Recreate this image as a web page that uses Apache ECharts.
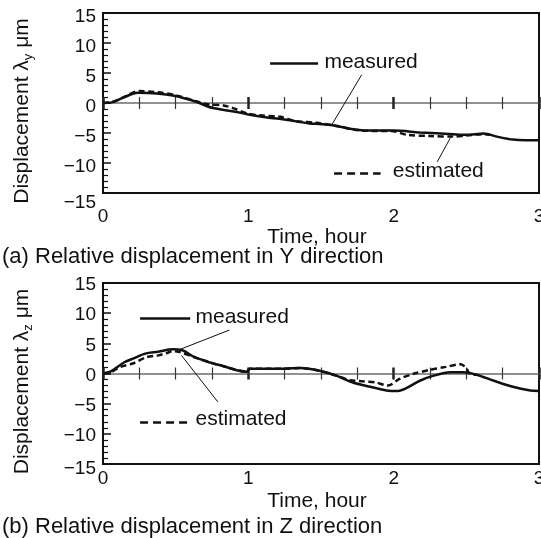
<!DOCTYPE html>
<html><head><meta charset="utf-8">
<script src="https://cdn.jsdelivr.net/npm/echarts@6/dist/echarts.min.js"></script>
<style>html,body{margin:0;padding:0;background:#fff}#c{width:541px;height:538px}</style>
</head><body><div id="c"></div>
<script>
// ---- data ----
const timeYm = [0, 0.06, 0.14, 0.24, 0.37, 0.49, 0.64, 0.75, 0.90, 1.00, 1.13, 1.26, 1.42, 1.49, 1.58, 1.70, 1.81, 2.00, 2.18, 2.41, 2.50, 2.62, 2.71, 2.82, 2.91, 3.00];
const yMeasured = [0, 0.1, 0.9, 1.7, 1.6, 1.2, 0.2, -0.8, -1.4, -1.9, -2.4, -2.8, -3.4, -3.5, -3.7, -4.3, -4.6, -4.6, -4.9, -5.2, -5.3, -5.1, -5.6, -6.1, -6.2, -6.2];
const timeYe = [0, 0.08, 0.16, 0.25, 0.37, 0.50, 0.64, 0.72, 0.83, 0.90, 1.00, 1.10, 1.22, 1.32, 1.47, 1.60, 1.78, 2.00, 2.09, 2.25, 2.41, 2.50, 2.62, 2.66];
const yEstimated = [0, 0.3, 1.2, 2.0, 1.8, 1.3, 0.3, -0.2, -0.4, -0.9, -1.8, -2.1, -2.3, -3.0, -3.3, -3.8, -4.6, -4.7, -5.3, -5.5, -5.6, -5.4, -5.2, -5.3];
const timeZm = [0, 0.05, 0.15, 0.21, 0.29, 0.38, 0.48, 0.54, 0.63, 0.74, 0.83, 0.92, 0.99, 1.01, 1.24, 1.36, 1.49, 1.61, 1.72, 1.84, 1.95, 2.03, 2.09, 2.18, 2.27, 2.39, 2.48, 2.57, 2.69, 2.82, 2.94, 3.00];
const zMeasured = [0, 0.3, 1.9, 2.5, 3.3, 3.6, 4.0, 3.9, 2.7, 1.8, 1.2, 0.55, 0.3, 0.8, 0.8, 0.9, 0.45, -0.4, -1.5, -2.2, -2.8, -2.9, -2.4, -1.2, -0.4, 0.2, 0.2, -0.2, -1.2, -2.2, -2.8, -2.9];
const timeZe = [0, 0.06, 0.12, 0.21, 0.30, 0.38, 0.44, 0.48, 0.52, 0.63, 0.74, 0.83, 0.92, 0.99, 1.01, 1.24, 1.36, 1.49, 1.61, 1.70, 1.79, 1.88, 1.96, 2.04, 2.13, 2.25, 2.36, 2.46, 2.50, 2.52, 2.57];
const zEstimated = [0, 0.3, 1.1, 1.7, 2.7, 3.0, 3.4, 3.7, 3.6, 2.7, 1.8, 1.2, 0.55, 0.3, 0.8, 0.8, 0.9, 0.45, -0.4, -1.1, -1.3, -1.5, -2.0, -0.9, -0.1, 0.6, 1.1, 1.55, 0.9, 0.0, -0.2];
const xTickLabels = ['0', '1', '2', '3'];
const seriesNames = ['measured', 'estimated'];
const xTitle = 'Time, hour';
const yTitleSubs = ['y', 'z'];
const captions = ['(a) Relative displacement in Y direction', '(b) Relative displacement in Z direction'];

// ---- helpers ----
const FONT = '"Liberation Sans", Arial, sans-serif';
const INK = '#111';
const pairs = (xs, ys) => xs.map((x, i) => [x, ys[i]]);
const minus = v => String(v).replace('-', '\u2212');

function mainX(gi, labelMargin, nameGap) {
  return {
    type: 'value', gridIndex: gi, min: 0, max: 3, interval: 1, position: 'bottom',
    axisLine: { show: false, onZero: false }, axisTick: { show: false }, splitLine: { show: false },
    axisLabel: { fontSize: 19, color: INK, fontFamily: FONT, margin: labelMargin,
      formatter: v => xTickLabels[Math.round(v)] },
    name: xTitle, nameLocation: 'middle', nameGap: nameGap,
    nameTextStyle: { fontSize: 21, color: INK, fontFamily: FONT, padding: [0, 8, 0, 0] }
  };
}
function zeroX(gi, yIdx, pos) {
  return {
    type: 'value', gridIndex: gi, min: 0, max: 3, interval: 1, position: pos,
    axisLine: { show: true, onZero: true, onZeroAxisIndex: yIdx, lineStyle: { color: '#8a8a8a', width: 1.5 } },
    axisTick: { show: true, inside: true, length: 6, lineStyle: { color: '#222', width: 2.5 } },
    minorTick: { show: true, splitNumber: 4, length: 6, lineStyle: { color: '#333', width: 1.2 } },
    axisLabel: { show: false }, splitLine: { show: false }
  };
}
function yAx(gi, shift, lowShift, sub) {
  const base = { fontSize: 19, fontFamily: FONT, color: INK };
  return {
    type: 'value', gridIndex: gi, min: -15, max: 15, interval: 5,
    axisLine: { show: false }, splitLine: { show: false },
    axisTick: { show: true, inside: true, length: 8, lineStyle: { color: INK, width: 1.5 } },
    minorTick: { show: true, splitNumber: 5, length: 5, lineStyle: { color: INK, width: 1.2 } },
    axisLabel: {
      margin: 7, fontSize: 19, fontFamily: FONT, color: INK,
      formatter: v => (v === -15 ? '{lo|' : '{n|') + minus(v) + '}',
      rich: { n: Object.assign({ padding: [shift * 2, 0, 0, 0] }, base),
              lo: Object.assign({ padding: [lowShift * 2, 0, 0, 0] }, base) }
    },
    name: 'Displacement \u03bb{s|' + sub + '} \u03bcm', nameLocation: 'middle', nameRotate: 90, nameGap: 68,
    nameTextStyle: {
      fontSize: 21, fontFamily: FONT, color: INK, lineHeight: 26, padding: [0, 16, 0, 0],
      rich: { s: { fontSize: 13, fontFamily: FONT, color: INK, lineHeight: 14, verticalAlign: 'bottom' } }
    }
  };
}
function annot(lines, labels) {
  return {
    markLine: {
      silent: true, symbol: ['none', 'none'], label: { show: false }, animation: false,
      data: lines.map(l => {
        const ls = { color: INK, width: l.w, type: l.dash || 'solid' };
        return [{ coord: l.a, lineStyle: ls }, { coord: l.b, lineStyle: ls }];
      })
    },
    markPoint: {
      silent: true, symbol: 'circle', symbolSize: 1, itemStyle: { color: 'rgba(0,0,0,0)' },
      label: { show: true, position: 'right', distance: 0, formatter: '{b}', fontSize: 21, fontFamily: FONT, color: INK },
      data: labels.map(p => ({ name: p.t, coord: p.c }))
    }
  };
}
function curve(xi, yi, data, dashed, extra) {
  return Object.assign({
    type: 'line', xAxisIndex: xi, yAxisIndex: yi, data: data, symbol: 'none', showSymbol: false,
    smooth: 0.3, lineStyle: { color: INK, width: 2.5, type: dashed ? [6, 3.5] : 'solid' }, z: dashed ? 3 : 2
  }, extra || {});
}

const annY = annot([
  { a: [1.15, 6.62], b: [1.48, 6.62], w: 2.5 },
  { a: [1.59, -11.72], b: [1.91, -11.72], w: 2.5, dash: [8, 5] },
  { a: [1.78, 4.7], b: [1.57, -3.8], w: 1 },
  { a: [2.39, -5.8], b: [2.30, -9.8], w: 1 }
], [{ t: seriesNames[0], c: [1.52, 6.73] }, { t: seriesNames[1], c: [1.99, -11.33] }]);
const annZ = annot([
  { a: [0.255, 9.15], b: [0.60, 9.15], w: 2.5 },
  { a: [0.255, -8.0], b: [0.585, -8.0], w: 2.5, dash: [8, 5] },
  { a: [0.87, 7.2], b: [0.53, 4.0], w: 1 },
  { a: [0.54, 3.0], b: [0.79, -4.7], w: 1 }
], [{ t: seriesNames[0], c: [0.633, 9.27] }, { t: seriesNames[1], c: [0.633, -7.6] }]);

const chart = echarts.init(document.getElementById('c'), null, { renderer: 'canvas' });
chart.setOption({
  animation: false,
  backgroundColor: '#fff',
  grid: [
    { left: 103, top: 13, width: 436, height: 180, outerBoundsMode: 'none', containLabel: false, show: true, borderColor: INK, borderWidth: 2, backgroundColor: 'transparent' },
    { left: 103, top: 283, width: 436, height: 181, outerBoundsMode: 'none', containLabel: false, show: true, borderColor: INK, borderWidth: 2, backgroundColor: 'transparent' }
  ],
  xAxis: [
    mainX(0, 14, 29), zeroX(0, 0, 'bottom'), zeroX(0, 0, 'top'),
    mainX(1, 5, 27), zeroX(1, 1, 'bottom'), zeroX(1, 1, 'top')
  ],
  yAxis: [yAx(0, 4, 10, yTitleSubs[0]), yAx(1, 2, 4.5, yTitleSubs[1])],
  series: [
    curve(0, 0, pairs(timeYm, yMeasured), false, annY),
    curve(0, 0, pairs(timeYe, yEstimated), true),
    curve(3, 1, pairs(timeZm, zMeasured), false, annZ),
    curve(3, 1, pairs(timeZe, zEstimated), true)
  ],
  graphic: [
    { type: 'text', x: 2, y: 257, style: { text: captions[0], font: '22px ' + FONT, fill: INK, verticalAlign: 'middle' } },
    { type: 'text', x: 2, y: 527, style: { text: captions[1], font: '22px ' + FONT, fill: INK, verticalAlign: 'middle' } }
  ]
});
</script>
</body></html>
